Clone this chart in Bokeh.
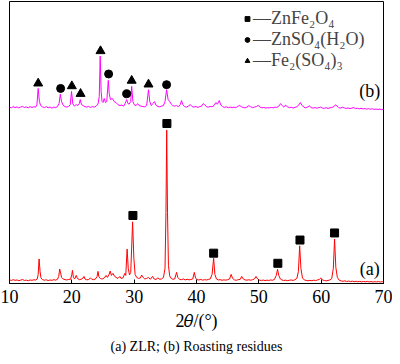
from bokeh.plotting import figure
from bokeh.models import Range1d, Label, Legend, LegendItem, Title
from bokeh.embed import file_html
from bokeh.resources import INLINE

# ---- data ----
two_theta_a = [10.0, 10.3, 10.6, 10.9, 11.2, 11.5, 11.8, 12.1, 12.4, 12.7, 13.0, 13.3, 13.6, 13.9, 14.2, 14.45,
               14.6, 14.75, 14.9, 15.05, 15.3, 15.6, 15.9, 16.2, 16.5, 16.8, 17.1, 17.4, 17.7,
               17.9, 18.05, 18.2, 18.35, 18.6, 18.9, 19.2, 19.5, 19.8,
               20.0, 20.1, 20.25, 20.45, 20.7, 20.9, 21.2, 21.5, 21.8, 21.95, 22.1, 22.4, 22.7, 23.0, 23.2, 23.5, 23.8,
               24.05, 24.2, 24.35, 24.6, 24.9, 25.2, 25.5, 25.7, 25.95, 26.15, 26.35, 26.6, 26.8, 27.1, 27.4, 27.7,
               27.9, 28.2, 28.5, 28.65, 28.87, 29.05, 29.25, 29.45, 29.75, 29.95, 30.15, 30.4, 30.7, 31.0, 31.2,
               31.45, 31.7, 32.0, 32.3, 32.6, 32.95, 33.2, 33.5, 33.8, 34.1, 34.4, 34.7, 34.95, 35.1, 35.22, 35.35,
               35.5, 35.7, 35.95, 36.2, 36.5, 36.8, 37.0, 37.3, 37.6, 37.9, 38.2, 38.5, 38.8, 39.1, 39.4, 39.65,
               39.85, 40.1, 40.4, 40.7, 41.0, 41.3, 41.6, 41.9, 42.2, 42.5, 42.75, 42.95, 43.2, 43.5, 43.8, 44.1,
               44.4, 44.7, 45.0, 45.3, 45.55, 45.8, 46.1, 46.4, 46.7, 47.0, 47.25, 47.5, 47.8, 48.1, 48.4, 48.7,
               49.0, 49.3, 49.55, 49.8, 50.1, 50.4, 50.7, 51.0, 51.3, 51.6, 51.9, 52.2, 52.5, 52.8, 53.0, 53.2,
               53.45, 53.7, 54.0, 54.3, 54.6, 54.9, 55.2, 55.5, 55.8, 56.1, 56.35, 56.55, 56.75, 57.0, 57.3, 57.6,
               57.9, 58.2, 58.5, 58.8, 59.1, 59.4, 59.7, 59.95, 60.2, 60.5, 60.8, 61.1, 61.4, 61.7, 61.95, 62.15,
               62.35, 62.6, 62.9, 63.2, 63.5, 63.8, 64.1, 64.4, 64.7, 65.0, 65.3, 65.6, 65.9, 66.2, 66.5, 66.8,
               67.1, 67.4, 67.7, 68.0, 68.3, 68.6, 68.9, 69.2, 69.5, 69.8, 70.0]
intensity_a = [36, 30, 38, 31, 35, 28, 34, 39, 30, 33, 27, 35, 31, 37, 34, 45,
               90, 243, 120, 55, 38, 32, 37, 29, 35, 31, 38, 33, 42,
               70, 143, 105, 60, 45, 38, 35, 40, 42,
               90, 130, 60, 45, 80, 50, 38, 42, 55, 70, 45, 36, 40, 55, 42, 38, 45,
               70, 120, 65, 48, 45, 55, 80, 60, 85, 123, 80, 100, 75, 60, 50, 70,
               50, 55, 100, 80, 340, 150, 85, 110, 610, 250, 90, 60, 50, 55, 83,
               60, 45, 50, 60, 42, 70, 45, 40, 55, 42, 45, 60, 150, 700, 1517, 700,
               180, 75, 50, 42, 45, 110, 60, 40, 38, 45, 35, 42, 36, 40, 45, 110,
               55, 38, 35, 40, 33, 38, 35, 40, 45, 90, 250, 90, 45, 35, 38, 32,
               36, 33, 38, 45, 90, 50, 35, 32, 38, 40, 70, 45, 35, 33, 37, 32,
               38, 45, 70, 45, 33, 30, 34, 29, 33, 30, 35, 32, 40, 80, 140, 80,
               45, 35, 30, 33, 28, 32, 35, 30, 38, 50, 120, 373, 150, 55, 35, 30,
               27, 31, 28, 33, 29, 35, 40, 55, 35, 30, 26, 30, 35, 50, 150, 440,
               160, 60, 32, 25, 22, 26, 20, 24, 19, 23, 18, 22, 17, 21, 16, 20,
               17, 21, 16, 19, 15, 18, 16, 19, 15, 18, 16]

two_theta_b = [10.0, 10.3, 10.6, 10.9, 11.2, 11.5, 11.8, 12.1, 12.4, 12.7, 13.0, 13.3, 13.6, 13.9, 14.2, 14.4,
               14.6, 14.8, 15.0, 15.3, 15.6, 15.9, 16.2, 16.5, 16.8, 17.1, 17.4, 17.7, 17.95, 18.15, 18.35, 18.6,
               18.9, 19.2, 19.5, 19.75, 19.95, 20.15, 20.4, 20.7, 20.95, 21.2, 21.35, 21.55, 21.8, 22.1, 22.4, 22.7,
               23.0, 23.3, 23.6, 23.9, 24.2, 24.4, 24.55, 24.7, 24.85, 25.0, 25.2, 25.4, 25.6, 25.85, 26.0, 26.2,
               26.5, 26.8, 27.1, 27.4, 27.7, 28.0, 28.3, 28.55, 28.8, 29.0, 29.2, 29.45, 29.6, 29.8, 30.0, 30.3,
               30.55, 30.8, 31.1, 31.4, 31.7, 32.0, 32.3, 32.5, 32.75, 33.0, 33.25, 33.5, 33.8, 34.1, 34.4, 34.7,
               34.95, 35.2, 35.45, 35.7, 35.95, 36.2, 36.5, 36.8, 37.1, 37.4, 37.6, 37.8, 38.1, 38.4, 38.7, 39.0,
               39.3, 39.6, 39.9, 40.2, 40.5, 40.8, 41.1, 41.3, 41.6, 41.9, 42.2, 42.5, 42.8, 43.1, 43.35, 43.65,
               43.9, 44.2, 44.5, 44.8, 45.1, 45.4, 45.7, 46.0, 46.3, 46.6, 46.9, 47.2, 47.5, 47.8, 48.1, 48.4,
               48.7, 49.0, 49.3, 49.6, 49.9, 50.2, 50.5, 50.8, 51.1, 51.4, 51.7, 52.0, 52.3, 52.6, 52.9, 53.2,
               53.5, 53.75, 54.0, 54.3, 54.6, 54.9, 55.2, 55.5, 55.8, 56.1, 56.4, 56.65, 56.9, 57.2, 57.5, 57.8,
               58.1, 58.4, 58.7, 59.0, 59.3, 59.6, 59.9, 60.2, 60.5, 60.8, 61.1, 61.4, 61.7, 62.0, 62.3, 62.55,
               62.8, 63.1, 63.4, 63.7, 64.0, 64.3, 64.6, 64.9, 65.2, 65.5, 65.8, 66.1, 66.4, 66.7, 67.0, 67.3,
               67.6, 67.9, 68.2, 68.5, 68.8, 69.1, 69.4, 69.7, 70.0]
intensity_b = [1745, 1738, 1750, 1740, 1748, 1737, 1746, 1752, 1741, 1747, 1738, 1750, 1742, 1748, 1745, 1770,
               1930, 1800, 1760, 1748, 1740, 1750, 1738, 1746, 1735, 1745, 1740, 1752, 1780, 1873, 1800, 1765,
               1750, 1745, 1752, 1770, 1900, 1780, 1755, 1770, 1760, 1780, 1820, 1770, 1760, 1750, 1745, 1752,
               1742, 1750, 1745, 1755, 1775, 1850, 2250, 1900, 1800, 1790, 1830, 1790, 1800, 2010, 1880, 1820,
               1830, 1800, 1790, 1770, 1760, 1765, 1755, 1780, 1820, 1780, 1775, 1800, 1950, 1800, 1770, 1760,
               1780, 1760, 1755, 1750, 1748, 1760, 1917, 1800, 1760, 1780, 1800, 1765, 1750, 1748, 1755, 1760,
               1800, 1917, 1820, 1800, 1775, 1760, 1755, 1760, 1750, 1770, 1810, 1770, 1750, 1745, 1755, 1770,
               1750, 1745, 1752, 1742, 1750, 1755, 1780, 1770, 1748, 1745, 1752, 1748, 1760, 1790, 1775, 1810,
               1765, 1750, 1742, 1748, 1740, 1746, 1738, 1745, 1740, 1752, 1762, 1748, 1742, 1738, 1745, 1760,
               1748, 1740, 1745, 1750, 1762, 1745, 1738, 1742, 1735, 1740, 1737, 1742, 1738, 1745, 1742, 1755,
               1780, 1760, 1745, 1765, 1748, 1740, 1744, 1736, 1742, 1750, 1765, 1790, 1765, 1745, 1738, 1746,
               1758, 1740, 1735, 1741, 1734, 1740, 1745, 1736, 1733, 1740, 1732, 1738, 1742, 1748, 1768, 1755,
               1740, 1735, 1744, 1738, 1732, 1737, 1730, 1735, 1742, 1730, 1734, 1728, 1733, 1727, 1731, 1725,
               1730, 1724, 1729, 1722, 1727, 1721, 1726, 1720, 1724]

# phase markers (2theta, intensity)
znfe2o4_x = [29.8, 35.25, 42.75, 53.05, 56.6, 62.15]
znfe2o4_y = [673, 1583, 300, 200, 430, 500]
znso4_x = [18.2, 25.9, 28.8, 35.2]
znso4_y = [1930, 2073, 1877, 1967]
fe2so43_x = [14.6, 20.0, 21.4, 24.6, 29.6, 32.3]
fe2so43_y = [1980, 1953, 1877, 2300, 2007, 1970]

x_ticks = [10, 20, 30, 40, 50, 60, 70]
x_title = "2\U0001D703/(\u00b0)"
caption = "(a) ZLR; (b) Roasting residues"
legend_labels = ["\u2014ZnFe\u2082O\u2084", "\u2014ZnSO\u2084(H\u2082O)", "\u2014Fe\u2082(SO\u2084)\u2083"]
curve_labels = ["(a)", "(b)"]
curve_label_x = [67.8, 67.8]
curve_label_y = [140, 1900]

FONT = "Liberation Serif"

p = figure(width=392, height=356, output_backend="svg", toolbar_location=None,
           x_range=Range1d(10, 70), y_range=Range1d(0, 2790),
           min_border_left=9, min_border_right=9, min_border_top=1, min_border_bottom=0)
p.grid.visible = False
p.yaxis.visible = False
p.outline_line_color = "black"
p.outline_line_width = 1
p.background_fill_color = "white"
p.border_fill_color = "white"

xa = p.xaxis[0]
xa.ticker = x_ticks
xa.major_tick_in = 4
xa.major_tick_out = 0
xa.minor_tick_line_color = None
xa.axis_line_color = "black"
xa.major_label_text_font = FONT
xa.major_label_text_font_size = "18px"
xa.major_label_text_color = "black"
xa.major_label_standoff = 6
xa.axis_label = x_title
xa.axis_label_text_font = FONT
xa.axis_label_text_font_size = "18px"
xa.axis_label_text_font_style = "normal"
xa.axis_label_text_color = "black"
xa.axis_label_standoff = 5

cap = Title(text=caption, align="center", text_font=FONT, text_font_size="14px",
            text_font_style="normal", text_color="black", standoff=6)
p.add_layout(cap, "below")

p.line(two_theta_a, intensity_a, line_color="#ff0000", line_width=1)
p.line(two_theta_b, intensity_b, line_color="#ff00ff", line_width=1)

r_sq = p.scatter(znfe2o4_x, znfe2o4_y, marker="square", size=8, color="black")
r_ci = p.scatter(znso4_x, znso4_y, marker="circle", size=8, color="black")
r_tr = p.scatter(fe2so43_x, fe2so43_y, marker="triangle", size=9, color="black")

for t, x, y in zip(curve_labels, curve_label_x, curve_label_y):
    p.add_layout(Label(x=x, y=y, text=t, text_font=FONT, text_font_size="18px",
                       text_align="center", text_baseline="middle", text_color="black"))

legend = Legend(items=[LegendItem(label=legend_labels[0], renderers=[r_sq]),
                       LegendItem(label=legend_labels[1], renderers=[r_ci]),
                       LegendItem(label=legend_labels[2], renderers=[r_tr])],
                location=(232, 212), orientation="vertical",
                glyph_width=12, glyph_height=19, label_height=19, label_standoff=0,
                spacing=0, padding=0, margin=0,
                label_text_font=FONT, label_text_font_size="18px",
                border_line_alpha=0, background_fill_alpha=0)
p.add_layout(legend, "center")

open("out.html", "w").write(file_html(p, INLINE))
